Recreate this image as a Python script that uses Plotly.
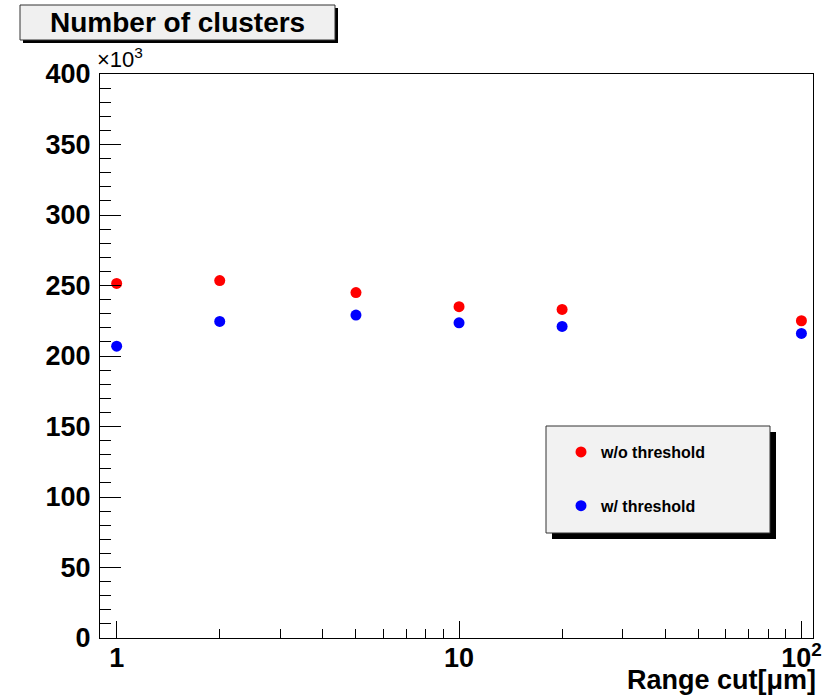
import math
import plotly.graph_objects as go

# ---- data (values in units of 10^3) ----
range_cut = [1, 2, 5, 10, 20, 100]
without_threshold = [251.5, 253.5, 245, 235, 233, 225]
with_threshold = [207, 224.5, 229, 223.5, 221, 216]

y_tick_vals = [0, 50, 100, 150, 200, 250, 300, 350, 400]
y_tick_text = [str(v) for v in y_tick_vals]
x_tick_vals = [1, 10, 100]
x_tick_text = ["1", "10", "10<sup>2</sup>"]
x_minor_vals = [2, 3, 4, 5, 6, 7, 8, 9, 20, 30, 40, 50, 60, 70, 80, 90]

W, H = 825, 696
L, R, T, B = 100, 12, 74, 58
PW, PH = W - L - R, H - T - B


def px(xp):
    return (xp - L) / PW


def py(yp):
    return (H - B - yp) / PH


FONT = "Liberation Sans, Arial, Helvetica, sans-serif"

fig = go.Figure()
fig.add_trace(go.Scatter(
    x=range_cut, y=without_threshold, mode="markers", name="w/o threshold",
    legendgroup="a",
    marker=dict(color="#ff0000", size=11, symbol="circle"),
))
fig.add_trace(go.Scatter(
    x=range_cut, y=with_threshold, mode="markers", name="w/ threshold",
    legendgroup="b",
    marker=dict(color="#0000ff", size=11, symbol="circle"),
))

shapes = []
# legend box shadow + box
shapes.append(dict(type="rect", xref="paper", yref="paper",
                   x0=px(552), x1=px(776), y0=py(539), y1=py(432),
                   fillcolor="black", line=dict(width=0), layer="below"))
shapes.append(dict(type="rect", xref="paper", yref="paper",
                   x0=px(546), x1=px(770), y0=py(533), y1=py(426),
                   fillcolor="#f2f2f2", line=dict(color="#333333", width=1), layer="below"))
# title box shadow + box
shapes.append(dict(type="rect", xref="paper", yref="paper",
                   x0=px(23), x1=px(338), y0=py(43), y1=py(8),
                   fillcolor="black", line=dict(width=0), layer="below"))
shapes.append(dict(type="rect", xref="paper", yref="paper",
                   x0=px(20), x1=px(335), y0=py(40), y1=py(5),
                   fillcolor="#f0f0f0", line=dict(color="#333333", width=1), layer="below"))

annotations = [
    dict(text="Number of clusters", xref="paper", yref="paper",
         x=px(177), y=py(23), xanchor="center", yanchor="middle", showarrow=False,
         font=dict(family=FONT, size=28, color="black", weight="bold")),
    dict(text="\u00d710<sup>3</sup>", xref="paper", yref="paper",
         x=px(95), y=py(74), xanchor="left", yanchor="bottom", showarrow=False,
         font=dict(family=FONT, size=22, color="black")),
    dict(text="Range cut[\u03bcm]", xref="paper", yref="paper",
         x=px(818), y=py(697), xanchor="right", yanchor="bottom", showarrow=False,
         font=dict(family=FONT, size=27, color="black", weight="bold")),
]

fig.update_layout(
    width=W, height=H,
    margin=dict(l=L, r=R, t=T, b=B, pad=0, autoexpand=False),
    paper_bgcolor="white", plot_bgcolor="white",
    showlegend=True,
    legend=dict(x=px(561), y=py(435), xanchor="left", yanchor="top",
                bgcolor="rgba(0,0,0,0)", borderwidth=0,
                tracegroupgap=30,
                font=dict(family=FONT, size=16, color="black", weight="bold")),
    shapes=shapes,
    annotations=annotations,
    xaxis=dict(
        type="log", range=[math.log10(0.894), math.log10(108.1)],
        automargin=False,
        tickmode="array", tickvals=x_tick_vals, ticktext=x_tick_text,
        ticks="inside", ticklen=17, tickwidth=1, tickcolor="black",
        showgrid=False, zeroline=False,
        showline=True, linecolor="black", linewidth=1, mirror=True,
        tickfont=dict(family=FONT, size=27, color="black", weight="bold"),
        ticklabelstandoff=-4,
        minor=dict(tickvals=x_minor_vals, ticks="inside", ticklen=9,
                   tickwidth=1, tickcolor="black", showgrid=False),
    ),
    yaxis=dict(
        range=[0, 400],
        automargin=False,
        tickmode="array", tickvals=y_tick_vals, ticktext=y_tick_text,
        ticks="inside", ticklen=21, tickwidth=1, tickcolor="black",
        showgrid=False, zeroline=False,
        showline=True, linecolor="black", linewidth=1, mirror=True,
        tickfont=dict(family=FONT, size=27, color="black", weight="bold"),
        ticklabelstandoff=3,
        minor=dict(dtick=10, ticks="inside", ticklen=11,
                   tickwidth=1, tickcolor="black", showgrid=False),
    ),
)

fig.write_html("out.html")
